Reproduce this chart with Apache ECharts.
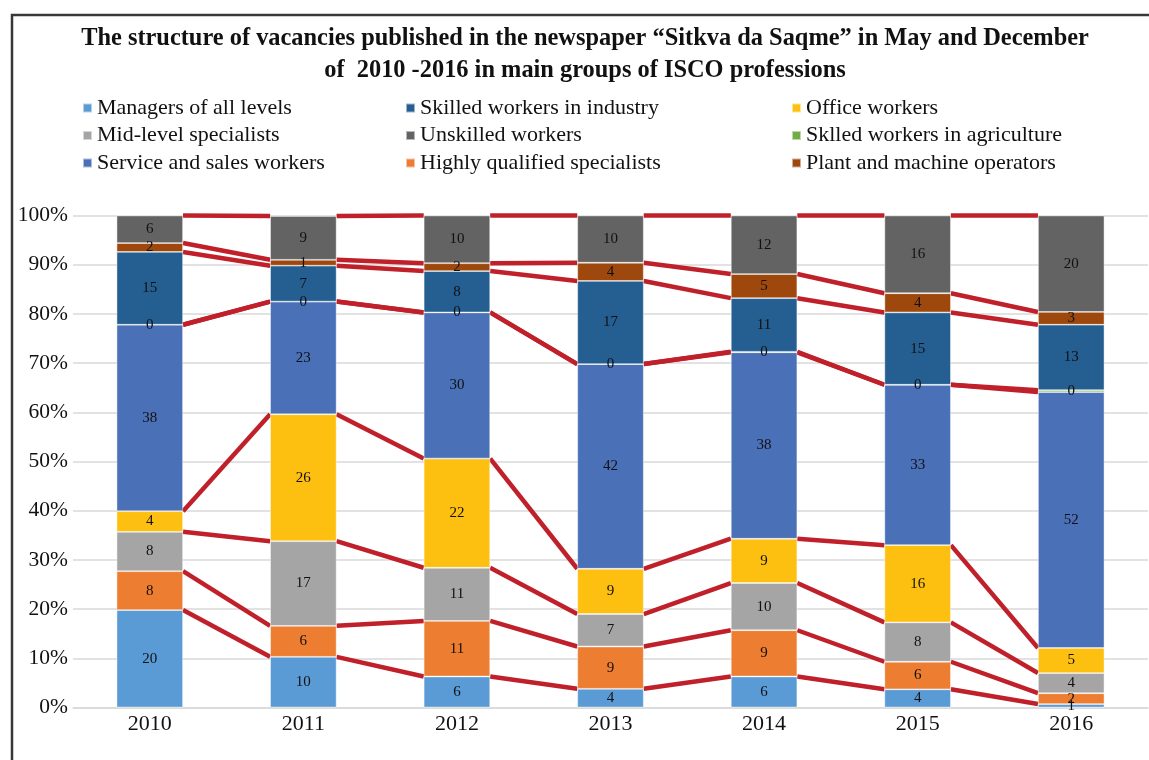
<!DOCTYPE html>
<html>
<head>
<meta charset="utf-8">
<script src="https://cdn.jsdelivr.net/npm/echarts@6/dist/echarts.min.js"></script>
<style>html,body{margin:0;padding:0;background:#fff}#c{width:1149px;height:760px}</style>
</head>
<body>
<div id="c"></div>
<script>
// Categories (years)
const years = ['2010', '2011', '2012', '2013', '2014', '2015', '2016'];

// Shares (%) per group; stacked bottom to top
const managers      = [19.8, 10.3, 6.3, 3.8, 6.3, 3.7, 0.7];
const highlyQual    = [7.9, 6.3, 11.3, 8.6, 9.4, 5.6, 2.2];
const midLevel      = [8.0, 17.2, 10.8, 6.6, 9.6, 8.0, 4.1];
const officeWorkers = [4.2, 25.8, 22.2, 9.2, 9.0, 15.7, 5.1];
const serviceSales  = [37.9, 22.9, 29.7, 41.6, 37.9, 32.6, 52.0];
const agriculture   = [0, 0, 0, 0, 0.1, 0, 0.4];
const industry      = [14.8, 7.3, 8.4, 16.9, 10.9, 14.7, 13.3];
const plantOps      = [1.8, 1.2, 1.6, 3.7, 4.9, 3.9, 2.6];
const unskilled     = [5.6, 8.9, 9.7, 9.6, 11.9, 15.8, 19.6];

const yTicks = [0, 10, 20, 30, 40, 50, 60, 70, 80, 90, 100];

const groups = [
  {name: 'Managers of all levels', data: managers, color: '#5B9BD5'},
  {name: 'Highly qualified specialists', data: highlyQual, color: '#ED7D31'},
  {name: 'Mid-level specialists', data: midLevel, color: '#A5A5A5'},
  {name: 'Office workers', data: officeWorkers, color: '#FDC010'},
  {name: 'Service and sales workers', data: serviceSales, color: '#4A70B7'},
  {name: 'Sklled workers in agriculture', data: agriculture, color: '#70AD47'},
  {name: 'Skilled workers in industry', data: industry, color: '#255E91'},
  {name: 'Plant and machine operators', data: plantOps, color: '#9E480E'},
  {name: 'Unskilled workers', data: unskilled, color: '#636363'}
];

const FONT = '"Liberation Serif", "DejaVu Serif", serif';
const BAR_FRAC = 0.433;

// cumulative boundaries per year
const cum = years.map((y, i) => {
  let s = 0;
  return groups.map(g => (s += g.data[i]));
});
const lineData = [];
for (let k = 0; k < groups.length; k++) {
  for (let i = 0; i < years.length - 1; i++) {
    lineData.push([i, cum[i][k], cum[i + 1][k]]);
  }
}

const series = groups.map(g => ({
  name: g.name,
  type: 'bar',
  stack: 'total',
  barCategoryGap: ((1 - BAR_FRAC) * 100).toFixed(1) + '%',
  data: g.data,
  z: 3,
  itemStyle: {color: g.color, borderColor: 'rgba(255,255,255,0.55)', borderWidth: 0.8},
  label: {
    show: true, position: 'inside', color: '#111', fontFamily: FONT, fontSize: 15,
    formatter: p => String(Math.round(p.value))
  },
  emphasis: {disabled: true}
}));

series.push({
  type: 'custom',
  name: 'serieslines',
  data: lineData,
  z: 2,
  silent: true,
  encode: {x: 0, y: 1},
  renderItem: function (params, api) {
    const i = api.value(0);
    const p1 = api.coord([i, api.value(1)]);
    const p2 = api.coord([i + 1, api.value(2)]);
    const half = api.size([1, 0])[0] * BAR_FRAC / 2;
    return {
      type: 'line',
      shape: {x1: p1[0] + half, y1: p1[1], x2: p2[0] - half, y2: p2[1]},
      style: {stroke: '#C0202A', lineWidth: 4.5, lineCap: 'butt'}
    };
  }
});

const legendCol = (names, left) => ({
  orient: 'vertical', left: left, top: 97, padding: 0, itemWidth: 9, itemHeight: 9, itemGap: 5.5,
  icon: 'rect', selectedMode: false, data: names,
  textStyle: {fontFamily: FONT, fontSize: 22, color: '#111', lineHeight: 22}
});

const chart = echarts.init(document.getElementById('c'), null, {renderer: 'canvas'});
chart.setOption({
  animation: false,
  backgroundColor: '#fff',
  title: {
    text: 'The structure of vacancies published in the newspaper \u201cSitkva da Saqme\u201d in May and December\nof  2010 -2016 in main groups of ISCO professions',
    left: 580, top: 18, textAlign: 'center',
    textStyle: {fontFamily: FONT, fontSize: 24.4, fontWeight: 'bold', color: '#111', lineHeight: 32}
  },
  legend: [
    legendCol(['Managers of all levels', 'Mid-level specialists', 'Service and sales workers'], 82),
    legendCol(['Skilled workers in industry', 'Unskilled workers', 'Highly qualified specialists'], 405),
    legendCol(['Office workers', 'Sklled workers in agriculture', 'Plant and machine operators'], 791)
  ],
  grid: {left: 73, right: 1, top: 215.5, bottom: 52.5, containLabel: false},
  xAxis: {
    type: 'category', data: years,
    axisLine: {lineStyle: {color: '#D9D9D9', width: 1.5}},
    axisTick: {show: false},
    axisLabel: {fontFamily: FONT, fontSize: 22, color: '#111', margin: 6}
  },
  yAxis: {
    type: 'value', min: yTicks[0], max: yTicks[yTicks.length - 1], interval: 10,
    axisLabel: {fontFamily: FONT, fontSize: 21.5, color: '#111', margin: 5, formatter: '{value}%'},
    splitLine: {lineStyle: {color: '#D9D9D9', width: 1.5}},
    axisLine: {show: false}, axisTick: {show: false}
  },
  graphic: [{
    type: 'rect', left: 9.5, top: 12.5, z: 100, silent: true,
    shape: {x: 0, y: 0, width: 1200, height: 800},
    style: {fill: 'none', stroke: '#383838', lineWidth: 2.5}
  }],
  series: series
});
</script>
</body>
</html>
